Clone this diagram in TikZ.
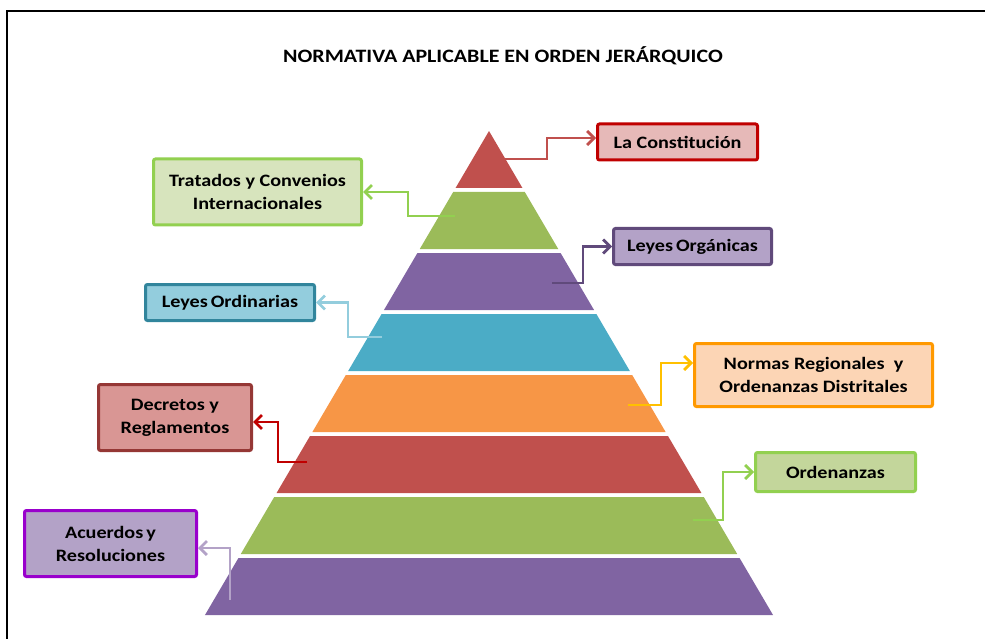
\documentclass[tikz,border=0pt]{standalone}
\usepackage{fontspec}
\setmainfont{Carlito}[FakeStretch=1.16]
\usetikzlibrary{arrows.meta}
\definecolor{lred}{HTML}{C0504D}
\definecolor{lgreen}{HTML}{9BBB59}
\definecolor{lpurple}{HTML}{8064A2}
\definecolor{lcyan}{HTML}{4BACC6}
\definecolor{lorange}{HTML}{F79646}
\definecolor{f1}{HTML}{E6B9B8}\definecolor{d1}{HTML}{C00000}
\definecolor{f2}{HTML}{D7E4BD}\definecolor{d2}{HTML}{92D050}
\definecolor{f3}{HTML}{B3A2C7}\definecolor{d3}{HTML}{604A7B}
\definecolor{f4}{HTML}{93CDDD}\definecolor{d4}{HTML}{31859C}
\definecolor{f5}{HTML}{FCD5B5}\definecolor{d5}{HTML}{FF9900}
\definecolor{f6}{HTML}{D99694}\definecolor{d6}{HTML}{953735}
\definecolor{f7}{HTML}{C3D69B}\definecolor{d7}{HTML}{92D050}
\definecolor{f8}{HTML}{B3A2C7}\definecolor{d8}{HTML}{9900CC}
\definecolor{a1}{HTML}{C0504D}
\definecolor{a2}{HTML}{92D050}
\definecolor{a3}{HTML}{604A7B}
\definecolor{a4}{HTML}{93CDDD}
\definecolor{a5}{HTML}{FFC000}
\definecolor{a6}{HTML}{C00000}
\definecolor{a7}{HTML}{92D050}
\definecolor{a8}{HTML}{B3A2C7}
\tikzset{
  box/.style={draw, line width=3pt, rounded corners=2pt, align=center, inner sep=0pt,
    font=\bfseries\fontsize{17.4}{23}\selectfont, text=black},
  conn/.style={line width=2.8pt, -{Straight Barb[length=7pt,width=14pt]}},
  titlefont/.style={font=\bfseries\fontsize{18.9}{22}\selectfont}
}
\begin{document}
\begin{tikzpicture}[x=1pt,y=-1pt]
\useasboundingbox (0,0) rectangle (985,639);
\draw[line width=2pt] (7,700) -- (7,11) -- (1000,11);
\node[titlefont, anchor=base] (title) at (503,63) {NORMATIVA APLICABLE EN ORDEN JERÁRQUICO};
% pyramid layers
\foreach \i/\c in {0/lred,1/lgreen,2/lpurple,3/lcyan,4/lorange,5/lred,6/lgreen,7/lpurple}{
  \pgfmathsetmacro\t{131+61*\i}
  \pgfmathsetmacro\b{\t+57}
  \pgfmathsetmacro\wt{0.5868*(\t-131)}
  \pgfmathsetmacro\wb{0.5868*(\b-131)}
  \fill[\c] ({489-\wt},\t) -- ({489+\wt},\t) -- ({489+\wb},\b) -- ({489-\wb},\b) -- cycle;
}
% boxes
\node[box, fill=f1, draw=d1, minimum width=160pt, minimum height=36pt] (b1) at (677.5,142) {La Constitución};
\node[box, fill=f2, draw=d2, minimum width=208pt, minimum height=66pt] (b2) at (257.5,192) {Tratados y Convenios\\Internacionales};
\node[box, fill=f3, draw=d3, minimum width=158pt, minimum height=36pt] (b3) at (692.5,246.5) {Leyes\hspace{0.17em}Orgánicas};
\node[box, fill=f4, draw=d4, minimum width=169pt, minimum height=36pt] (b4) at (230,302.5) {Leyes\hspace{0.17em}Ordinarias};
\node[box, fill=f5, draw=d5, minimum width=238pt, minimum height=63pt] (b5) at (813.5,375) {Normas Regionales~ y\\Ordenanzas Distritales};
\node[box, fill=f6, draw=d6, minimum width=153pt, minimum height=66pt] (b6) at (175,417.5) {Decretos y\\Reglamentos};
\node[box, fill=f7, draw=d7, minimum width=160pt, minimum height=39pt] (b7) at (835.5,472) {Ordenanzas};
\node[box, fill=f8, draw=d8, minimum width=172pt, minimum height=66pt] (b8) at (110.5,543.5) {Acuerdos\hspace{0.17em}y\\Resoluciones};
% connector start points
\coordinate (s1) at (505,159); \coordinate (k1) at (547,159);
\coordinate (s2) at (455,216); \coordinate (k2) at (408,216);
\coordinate (s3) at (552,283); \coordinate (k3) at (583,283);
\coordinate (s4) at (382,337); \coordinate (k4) at (348,337);
\coordinate (s5) at (628,405); \coordinate (k5) at (661,405);
\coordinate (s6) at (307,462); \coordinate (k6) at (278,462);
\coordinate (s7) at (693,520); \coordinate (k7) at (723,520);
\coordinate (s8) at (230,600);
% connectors
\draw[conn, a1] (s1) -- (k1) |- ([yshift=4pt]b1.west);
\draw[conn, a2] (s2) -- (k2) |- (b2.east);
\draw[conn, a3] (s3) -- (k3) |- (b3.west);
\draw[conn, a4] (s4) -- (k4) |- (b4.east);
\draw[conn, a5] (s5) -- (k5) |- ([yshift=12pt]b5.west);
\draw[conn, a6] (s6) -- (k6) |- ([yshift=-4.5pt]b6.east);
\draw[conn, a7] (s7) -- (k7) |- (b7.west);
\draw[conn, a8] (s8) |- ([yshift=-4.5pt]b8.east);
\end{tikzpicture}
\end{document}
